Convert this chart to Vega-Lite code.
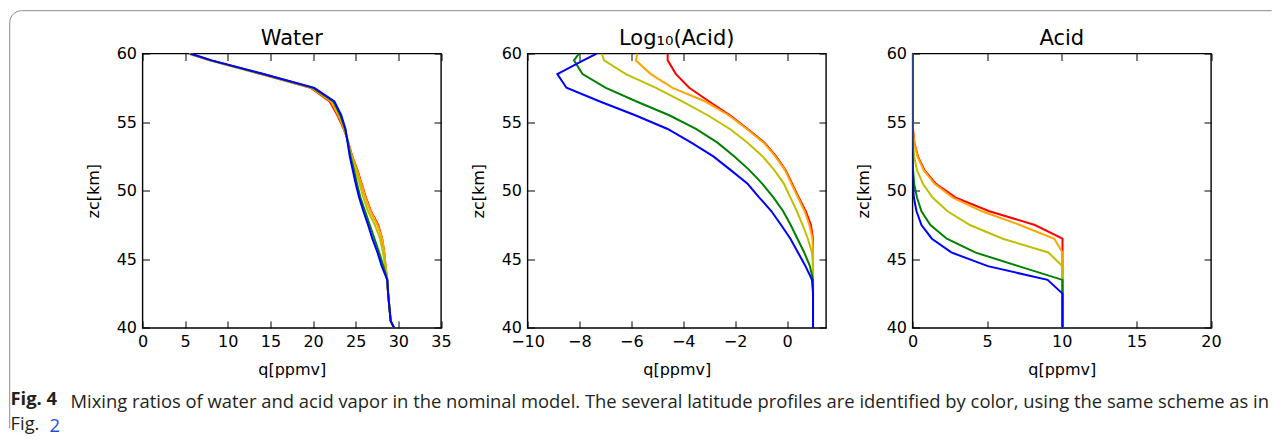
{
  "$schema": "https://vega.github.io/schema/vega-lite/v6.json",
  "background": "white",
  "padding": {"left": 8.5, "top": 9.5, "right": 0, "bottom": 0},
  "datasets": {
    "prof": [
      {"profile": "1", "zc": 60, "water": 5.4, "logacid": -4.6, "acid": 0},
      {"profile": "1", "zc": 59.5, "water": 7.9, "logacid": -4.6, "acid": 0},
      {"profile": "1", "zc": 58.5, "water": 13.9, "logacid": -4.28, "acid": 0},
      {"profile": "1", "zc": 57.5, "water": 19.7, "logacid": -3.77, "acid": 0},
      {"profile": "1", "zc": 56.5, "water": 21.95, "logacid": -3.0, "acid": 0},
      {"profile": "1", "zc": 55.5, "water": 22.85, "logacid": -2.2, "acid": 0.01},
      {"profile": "1", "zc": 54.5, "water": 23.6, "logacid": -1.52, "acid": 0.03},
      {"profile": "1", "zc": 53.5, "water": 24.15, "logacid": -0.87, "acid": 0.13},
      {"profile": "1", "zc": 52.5, "water": 24.6, "logacid": -0.42, "acid": 0.36},
      {"profile": "1", "zc": 51.5, "water": 25.2, "logacid": -0.06, "acid": 0.8},
      {"profile": "1", "zc": 50.5, "water": 25.7, "logacid": 0.2, "acid": 1.57},
      {"profile": "1", "zc": 49.5, "water": 26.2, "logacid": 0.45, "acid": 2.9},
      {"profile": "1", "zc": 48.5, "water": 26.8, "logacid": 0.72, "acid": 5.15},
      {"profile": "1", "zc": 47.5, "water": 27.65, "logacid": 0.92, "acid": 8.2},
      {"profile": "1", "zc": 46.5, "water": 28.1, "logacid": 1.0, "acid": 10.05},
      {"profile": "1", "zc": 45.5, "water": 28.35, "logacid": 1.0, "acid": 10.05},
      {"profile": "1", "zc": 44.5, "water": 28.5, "logacid": 1.0, "acid": 10.05},
      {"profile": "1", "zc": 43.5, "water": 28.7, "logacid": 1.0, "acid": 10.05},
      {"profile": "1", "zc": 42.5, "water": 28.8, "logacid": 1.0, "acid": 10.05},
      {"profile": "1", "zc": 41.5, "water": 28.95, "logacid": 1.0, "acid": 10.05},
      {"profile": "1", "zc": 40.5, "water": 29.1, "logacid": 1.0, "acid": 10.05},
      {"profile": "1", "zc": 40, "water": 29.5, "logacid": 1.0, "acid": 10.05},

      {"profile": "2", "zc": 60, "water": 5.45, "logacid": -5.76, "acid": 0},
      {"profile": "2", "zc": 59.5, "water": 7.95, "logacid": -5.83, "acid": 0},
      {"profile": "2", "zc": 58.5, "water": 14.0, "logacid": -5.25, "acid": 0},
      {"profile": "2", "zc": 57.5, "water": 19.8, "logacid": -4.41, "acid": 0},
      {"profile": "2", "zc": 56.5, "water": 22.1, "logacid": -3.15, "acid": 0},
      {"profile": "2", "zc": 55.5, "water": 22.95, "logacid": -2.25, "acid": 0.01},
      {"profile": "2", "zc": 54.5, "water": 23.65, "logacid": -1.55, "acid": 0.03},
      {"profile": "2", "zc": 53.5, "water": 24.15, "logacid": -0.9, "acid": 0.12},
      {"profile": "2", "zc": 52.5, "water": 24.55, "logacid": -0.45, "acid": 0.33},
      {"profile": "2", "zc": 51.5, "water": 25.15, "logacid": -0.08, "acid": 0.75},
      {"profile": "2", "zc": 50.5, "water": 25.65, "logacid": 0.17, "acid": 1.48},
      {"profile": "2", "zc": 49.5, "water": 26.15, "logacid": 0.42, "acid": 2.7},
      {"profile": "2", "zc": 48.5, "water": 26.75, "logacid": 0.68, "acid": 4.65},
      {"profile": "2", "zc": 47.5, "water": 27.55, "logacid": 0.86, "acid": 7.2},
      {"profile": "2", "zc": 46.5, "water": 28.1, "logacid": 0.98, "acid": 9.5},
      {"profile": "2", "zc": 45.5, "water": 28.35, "logacid": 1.0, "acid": 10.05},
      {"profile": "2", "zc": 44.5, "water": 28.5, "logacid": 1.0, "acid": 10.05},
      {"profile": "2", "zc": 43.5, "water": 28.7, "logacid": 1.0, "acid": 10.05},
      {"profile": "2", "zc": 42.5, "water": 28.8, "logacid": 1.0, "acid": 10.05},
      {"profile": "2", "zc": 41.5, "water": 28.95, "logacid": 1.0, "acid": 10.05},
      {"profile": "2", "zc": 40.5, "water": 29.1, "logacid": 1.0, "acid": 10.05},
      {"profile": "2", "zc": 40, "water": 29.5, "logacid": 1.0, "acid": 10.05},

      {"profile": "3", "zc": 60, "water": 5.5, "logacid": -7.14, "acid": 0},
      {"profile": "3", "zc": 59.5, "water": 8.0, "logacid": -7.05, "acid": 0},
      {"profile": "3", "zc": 58.5, "water": 14.05, "logacid": -6.21, "acid": 0},
      {"profile": "3", "zc": 57.5, "water": 19.9, "logacid": -5.05, "acid": 0},
      {"profile": "3", "zc": 56.5, "water": 22.25, "logacid": -4.02, "acid": 0},
      {"profile": "3", "zc": 55.5, "water": 23.1, "logacid": -3.06, "acid": 0},
      {"profile": "3", "zc": 54.5, "water": 23.7, "logacid": -2.2, "acid": 0.01},
      {"profile": "3", "zc": 53.5, "water": 24.1, "logacid": -1.52, "acid": 0.03},
      {"profile": "3", "zc": 52.5, "water": 24.5, "logacid": -0.94, "acid": 0.11},
      {"profile": "3", "zc": 51.5, "water": 25.0, "logacid": -0.49, "acid": 0.3},
      {"profile": "3", "zc": 50.5, "water": 25.45, "logacid": -0.12, "acid": 0.7},
      {"profile": "3", "zc": 49.5, "water": 25.9, "logacid": 0.13, "acid": 1.34},
      {"profile": "3", "zc": 48.5, "water": 26.45, "logacid": 0.38, "acid": 2.35},
      {"profile": "3", "zc": 47.5, "water": 27.25, "logacid": 0.6, "acid": 3.85},
      {"profile": "3", "zc": 46.5, "water": 27.85, "logacid": 0.8, "acid": 6.05},
      {"profile": "3", "zc": 45.5, "water": 28.2, "logacid": 0.96, "acid": 9.1},
      {"profile": "3", "zc": 44.5, "water": 28.45, "logacid": 1.0, "acid": 10.05},
      {"profile": "3", "zc": 43.5, "water": 28.7, "logacid": 1.0, "acid": 10.05},
      {"profile": "3", "zc": 42.5, "water": 28.8, "logacid": 1.0, "acid": 10.05},
      {"profile": "3", "zc": 41.5, "water": 28.95, "logacid": 1.0, "acid": 10.05},
      {"profile": "3", "zc": 40.5, "water": 29.1, "logacid": 1.0, "acid": 10.05},
      {"profile": "3", "zc": 40, "water": 29.5, "logacid": 1.0, "acid": 10.05},

      {"profile": "4", "zc": 60, "water": 5.55, "logacid": -8.01, "acid": 0},
      {"profile": "4", "zc": 59.5, "water": 8.05, "logacid": -8.21, "acid": 0},
      {"profile": "4", "zc": 58.5, "water": 14.1, "logacid": -7.88, "acid": 0},
      {"profile": "4", "zc": 57.5, "water": 20.0, "logacid": -6.98, "acid": 0},
      {"profile": "4", "zc": 56.5, "water": 22.4, "logacid": -5.8, "acid": 0},
      {"profile": "4", "zc": 55.5, "water": 23.2, "logacid": -4.54, "acid": 0},
      {"profile": "4", "zc": 54.5, "water": 23.75, "logacid": -3.51, "acid": 0},
      {"profile": "4", "zc": 53.5, "water": 24.1, "logacid": -2.68, "acid": 0},
      {"profile": "4", "zc": 52.5, "water": 24.4, "logacid": -2.03, "acid": 0.01},
      {"profile": "4", "zc": 51.5, "water": 24.8, "logacid": -1.45, "acid": 0.04},
      {"profile": "4", "zc": 50.5, "water": 25.15, "logacid": -0.95, "acid": 0.11},
      {"profile": "4", "zc": 49.5, "water": 25.55, "logacid": -0.52, "acid": 0.3},
      {"profile": "4", "zc": 48.5, "water": 26.1, "logacid": -0.15, "acid": 0.6},
      {"profile": "4", "zc": 47.5, "water": 26.65, "logacid": 0.14, "acid": 1.2},
      {"profile": "4", "zc": 46.5, "water": 27.2, "logacid": 0.4, "acid": 2.3},
      {"profile": "4", "zc": 45.5, "water": 27.75, "logacid": 0.66, "acid": 4.2},
      {"profile": "4", "zc": 44.5, "water": 28.25, "logacid": 0.88, "acid": 7.1},
      {"profile": "4", "zc": 43.5, "water": 28.7, "logacid": 1.0, "acid": 10.05},
      {"profile": "4", "zc": 42.5, "water": 28.8, "logacid": 1.0, "acid": 10.05},
      {"profile": "4", "zc": 41.5, "water": 28.95, "logacid": 1.0, "acid": 10.05},
      {"profile": "4", "zc": 40.5, "water": 29.1, "logacid": 1.0, "acid": 10.05},
      {"profile": "4", "zc": 40, "water": 29.5, "logacid": 1.0, "acid": 10.05},

      {"profile": "5", "zc": 60, "water": 5.6, "logacid": -7.33, "acid": 0},
      {"profile": "5", "zc": 59.5, "water": 8.1, "logacid": -7.85, "acid": 0},
      {"profile": "5", "zc": 58.5, "water": 14.2, "logacid": -8.85, "acid": 0},
      {"profile": "5", "zc": 57.5, "water": 20.15, "logacid": -8.5, "acid": 0},
      {"profile": "5", "zc": 56.5, "water": 22.5, "logacid": -7.21, "acid": 0},
      {"profile": "5", "zc": 55.5, "water": 23.3, "logacid": -5.85, "acid": 0},
      {"profile": "5", "zc": 54.5, "water": 23.8, "logacid": -4.6, "acid": 0},
      {"profile": "5", "zc": 53.5, "water": 24.05, "logacid": -3.69, "acid": 0},
      {"profile": "5", "zc": 52.5, "water": 24.3, "logacid": -2.84, "acid": 0},
      {"profile": "5", "zc": 51.5, "water": 24.65, "logacid": -2.17, "acid": 0.01},
      {"profile": "5", "zc": 50.5, "water": 25.0, "logacid": -1.52, "acid": 0.03},
      {"profile": "5", "zc": 49.5, "water": 25.4, "logacid": -1.07, "acid": 0.09},
      {"profile": "5", "zc": 48.5, "water": 25.9, "logacid": -0.6, "acid": 0.27},
      {"profile": "5", "zc": 47.5, "water": 26.45, "logacid": -0.23, "acid": 0.6},
      {"profile": "5", "zc": 46.5, "water": 26.95, "logacid": 0.13, "acid": 1.3},
      {"profile": "5", "zc": 45.5, "water": 27.55, "logacid": 0.42, "acid": 2.6},
      {"profile": "5", "zc": 44.5, "water": 28.05, "logacid": 0.71, "acid": 5.05},
      {"profile": "5", "zc": 43.5, "water": 28.7, "logacid": 0.96, "acid": 9.05},
      {"profile": "5", "zc": 42.5, "water": 28.8, "logacid": 1.0, "acid": 10.05},
      {"profile": "5", "zc": 41.5, "water": 28.95, "logacid": 1.0, "acid": 10.05},
      {"profile": "5", "zc": 40.5, "water": 29.1, "logacid": 1.0, "acid": 10.05},
      {"profile": "5", "zc": 40, "water": 29.5, "logacid": 1.0, "acid": 10.05}
    ]
  },
  "data": {"name": "prof"},
  "title": {
    "text": "2",
    "orient": "bottom",
    "anchor": "start",
    "frame": "group",
    "dx": -93,
    "dy": -28,
    "font": "Open Sans",
    "fontSize": 18.4,
    "fontWeight": "normal",
    "color": "#1f4fd8",
    "offset": 4
  },
  "vconcat": [
    {
      "title": {
        "text": "Fig. 4",
        "subtitle": "Fig.",
        "orient": "bottom",
        "anchor": "start",
        "frame": "group",
        "dx": -132,
        "dy": -25,
        "font": "Open Sans",
        "fontSize": 18.4,
        "fontWeight": "bold",
        "color": "#231f20",
        "subtitleFont": "Open Sans",
        "subtitleFontSize": 18.4,
        "subtitleColor": "#231f20",
        "subtitlePadding": 7,
        "offset": 4
      },
      "vconcat": [
        {
          "title": {
            "text": "Mixing ratios of water and acid vapor in the nominal model. The several latitude profiles are identified by color, using the same scheme as in",
            "orient": "bottom",
            "anchor": "start",
            "frame": "group",
            "dx": -72,
            "font": "Open Sans",
            "fontSize": 18.4,
            "fontWeight": "normal",
            "color": "#231f20",
            "offset": 14
          },
          "spacing": 86,
          "bounds": "flush",
          "hconcat": [
            {
              "width": 298.5,
              "height": 274.4,
              "title": {"text": "Water", "font": "DejaVu Sans", "fontSize": 21, "fontWeight": "normal", "color": "#000", "offset": -3},
              "layer": [
                {
                  "mark": {"type": "line", "strokeWidth": 2, "clip": true},
                  "encoding": {
                    "x": {"field": "water", "type": "quantitative", "scale": {"domain": [0, 35], "nice": false, "zero": false}, "axis": {"values": [0, 5, 10, 15, 20, 25, 30, 35], "title": "q[ppmv]", "orient": "bottom"}},
                    "y": {"field": "zc", "type": "quantitative", "scale": {"domain": [40, 60], "nice": false, "zero": false}, "axis": {"values": [40, 45, 50, 55, 60], "title": "zc[km]", "orient": "left"}},
                    "color": {
                      "field": "profile", "type": "nominal",
                      "scale": {"domain": ["1", "2", "3", "4", "5"], "range": ["#ff0000", "#ffa500", "#bfbf00", "#008000", "#0000ff"]},
                      "legend": {
                        "orient": "none", "legendX": -133.3, "legendY": -43.3,
                        "values": ["1"], "title": null,
                        "symbolType": "square", "symbolSize": 184900, "symbolOpacity": 0, "symbolStrokeWidth": 0,
                        "labelOffset": 844, "labelFontSize": 1, "labelOpacity": 0, "labelExpr": "''",
                        "padding": 0, "rowPadding": 0,
                        "strokeColor": "#8c8c8c", "cornerRadius": 12
                      }
                    },
                    "order": {"field": "zc", "type": "quantitative"}
                  }
                },
                {
                  "mark": {"type": "point", "opacity": 0, "clip": true},
                  "encoding": {
                    "x": {"field": "water", "type": "quantitative", "scale": {"domain": [0, 35], "nice": false, "zero": false}, "axis": {"values": [0, 5, 10, 15, 20, 25, 30, 35], "labels": false, "title": null, "orient": "top"}},
                    "y": {"field": "zc", "type": "quantitative", "scale": {"domain": [40, 60], "nice": false, "zero": false}, "axis": {"values": [40, 45, 50, 55, 60], "labels": false, "title": null, "orient": "right"}}
                  }
                }
              ],
              "resolve": {"axis": {"x": "independent", "y": "independent"}}
            },
            {
              "width": 298.5,
              "height": 274.4,
              "title": {"text": "Log₁₀(Acid)", "font": "DejaVu Sans", "fontSize": 21, "fontWeight": "normal", "color": "#000", "offset": -3},
              "layer": [
                {
                  "mark": {"type": "line", "strokeWidth": 2, "clip": true},
                  "encoding": {
                    "x": {"field": "logacid", "type": "quantitative", "scale": {"domain": [-10, 1.5], "nice": false, "zero": false}, "axis": {"values": [-10, -8, -6, -4, -2, 0], "title": "q[ppmv]", "orient": "bottom"}},
                    "y": {"field": "zc", "type": "quantitative", "scale": {"domain": [40, 60], "nice": false, "zero": false}, "axis": {"values": [40, 45, 50, 55, 60], "title": "zc[km]", "orient": "left"}},
                    "color": {"field": "profile", "type": "nominal", "scale": {"domain": ["1", "2", "3", "4", "5"], "range": ["#ff0000", "#ffa500", "#bfbf00", "#008000", "#0000ff"]}, "legend": null},
                    "order": {"field": "zc", "type": "quantitative"}
                  }
                },
                {
                  "mark": {"type": "point", "opacity": 0, "clip": true},
                  "encoding": {
                    "x": {"field": "logacid", "type": "quantitative", "scale": {"domain": [-10, 1.5], "nice": false, "zero": false}, "axis": {"values": [-10, -8, -6, -4, -2, 0], "labels": false, "title": null, "orient": "top"}},
                    "y": {"field": "zc", "type": "quantitative", "scale": {"domain": [40, 60], "nice": false, "zero": false}, "axis": {"values": [40, 45, 50, 55, 60], "labels": false, "title": null, "orient": "right"}}
                  }
                }
              ],
              "resolve": {"axis": {"x": "independent", "y": "independent"}}
            },
            {
              "width": 298.5,
              "height": 274.4,
              "title": {"text": "Acid", "font": "DejaVu Sans", "fontSize": 21, "fontWeight": "normal", "color": "#000", "offset": -3},
              "layer": [
                {
                  "mark": {"type": "line", "strokeWidth": 2, "clip": true},
                  "encoding": {
                    "x": {"field": "acid", "type": "quantitative", "scale": {"domain": [0, 20], "nice": false, "zero": false}, "axis": {"values": [0, 5, 10, 15, 20], "title": "q[ppmv]", "orient": "bottom"}},
                    "y": {"field": "zc", "type": "quantitative", "scale": {"domain": [40, 60], "nice": false, "zero": false}, "axis": {"values": [40, 45, 50, 55, 60], "title": "zc[km]", "orient": "left"}},
                    "color": {"field": "profile", "type": "nominal", "scale": {"domain": ["1", "2", "3", "4", "5"], "range": ["#ff0000", "#ffa500", "#bfbf00", "#008000", "#0000ff"]}, "legend": null},
                    "order": {"field": "zc", "type": "quantitative"}
                  }
                },
                {
                  "mark": {"type": "point", "opacity": 0, "clip": true},
                  "encoding": {
                    "x": {"field": "acid", "type": "quantitative", "scale": {"domain": [0, 20], "nice": false, "zero": false}, "axis": {"values": [0, 5, 10, 15, 20], "labels": false, "title": null, "orient": "top"}},
                    "y": {"field": "zc", "type": "quantitative", "scale": {"domain": [40, 60], "nice": false, "zero": false}, "axis": {"values": [40, 45, 50, 55, 60], "labels": false, "title": null, "orient": "right"}}
                  }
                }
              ],
              "resolve": {"axis": {"x": "independent", "y": "independent"}}
            }
          ]
        }
      ]
    }
  ],
  "config": {
    "view": {"stroke": "#000", "strokeWidth": 1.4},
    "font": "DejaVu Sans",
    "legend": {"strokeDash": [1250, 1712.55, 427.85]},
    "axis": {
      "domain": false,
      "grid": false,
      "ticks": true,
      "tickColor": "#000",
      "tickWidth": 1,
      "tickSize": -7,
      "labelPadding": 13,
      "labelFont": "DejaVu Sans",
      "labelFontSize": 16,
      "labelColor": "#000",
      "labelFlush": false,
      "labelOverlap": false,
      "titleFont": "DejaVu Sans",
      "titleFontSize": 16,
      "titleFontWeight": "normal",
      "titleColor": "#000"
    },
    "axisY": {"titlePadding": 15},
    "axisX": {"titlePadding": 12}
  }
}
